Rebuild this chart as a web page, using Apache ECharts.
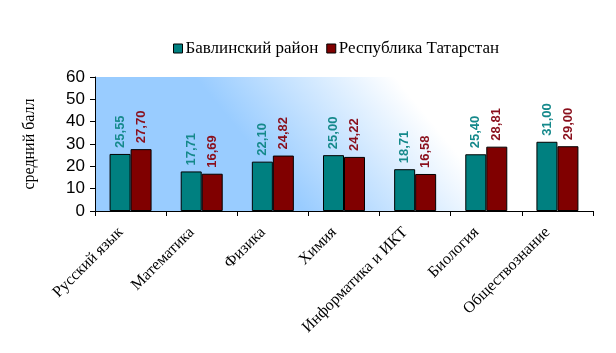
<!DOCTYPE html>
<html>
<head>
<meta charset="utf-8">
<script src="https://cdn.jsdelivr.net/npm/echarts@6/dist/echarts.min.js"></script>
<style>
html, body { margin: 0; padding: 0; background: #fff; }
#chart { width: 616px; height: 353px; }
</style>
</head>
<body>
<div id="chart"></div>
<script>
var subjects = ['Русский язык', 'Математика', 'Физика', 'Химия', 'Информатика и ИКТ', 'Биология', 'Обществознание'];
var bavly = [25.55, 17.71, 22.10, 25.00, 18.71, 25.40, 31.00];
var tatarstan = [27.70, 16.69, 24.82, 24.22, 16.58, 28.81, 29.00];
var seriesNames = ['Бавлинский район', 'Республика Татарстан'];
var yTicks = [0, 10, 20, 30, 40, 50, 60];

var myChart = echarts.init(document.getElementById('chart'));

function fmt(p) {
    return p.value.toFixed(2).replace('.', ',');
}

function makeSeries(name, data, color, labelColor) {
    return {
        name: name,
        type: 'bar',
        data: data,
        barWidth: 21,
        barGap: '0%',
        itemStyle: { color: color, borderColor: '#000', borderWidth: 1 },
        label: {
            show: true,
            position: 'top',
            rotate: 90,
            align: 'left',
            verticalAlign: 'middle',
            distance: 6,
            color: labelColor,
            fontFamily: 'Liberation Sans',
            fontWeight: 'bold',
            fontSize: 13,
            formatter: fmt
        }
    };
}

// background: blue on the left fading to white, slanted
var bg = new echarts.graphic.LinearGradient(195, 77, 315, -21, [
    { offset: 0, color: '#99ccff' },
    { offset: 1, color: '#ffffff' }
], true);

var option = {
    animation: false,
    backgroundColor: '#fff',
    legend: {
        top: 35,
        left: 168,
        itemWidth: 9,
        itemHeight: 9,
        itemGap: 8,
        icon: 'rect',
        itemStyle: { borderColor: '#000', borderWidth: 1 },
        textStyle: { fontFamily: 'Liberation Serif', fontSize: 17, color: '#000', padding: [0, 0, 0, -2] },
        data: seriesNames
    },
    grid: {
        left: 95,
        right: 23,
        top: 77,
        bottom: 142,
        show: true,
        borderWidth: 0,
        backgroundColor: bg
    },
    xAxis: {
        type: 'category',
        data: subjects,
        boundaryGap: true,
        axisLine: { lineStyle: { color: '#000', width: 1 } },
        axisTick: { show: true, alignWithLabel: false, length: 5, lineStyle: { color: '#000' } },
        axisLabel: {
            interval: 0,
            rotate: 45,
            margin: 9,
            padding: [0, 14, 0, 0],
            color: '#000',
            fontFamily: 'Liberation Serif',
            fontSize: 16
        }
    },
    yAxis: {
        type: 'value',
        min: yTicks[0],
        max: yTicks[yTicks.length - 1],
        interval: 10,
        name: 'средний балл',
        nameLocation: 'middle',
        nameGap: 57,
        nameTextStyle: { fontFamily: 'Liberation Serif', fontSize: 16, color: '#000' },
        axisLine: { show: true, lineStyle: { color: '#000', width: 1 } },
        axisTick: { show: true, length: 5, lineStyle: { color: '#000' } },
        splitLine: { show: false },
        axisLabel: {
            margin: 10,
            color: '#000',
            fontFamily: 'Liberation Sans',
            fontSize: 17
        }
    },
    series: [
        makeSeries(seriesNames[0], bavly, '#008080', '#15898b'),
        makeSeries(seriesNames[1], tatarstan, '#800000', '#8a0f1c')
    ]
};

myChart.setOption(option);
</script>
</body>
</html>
